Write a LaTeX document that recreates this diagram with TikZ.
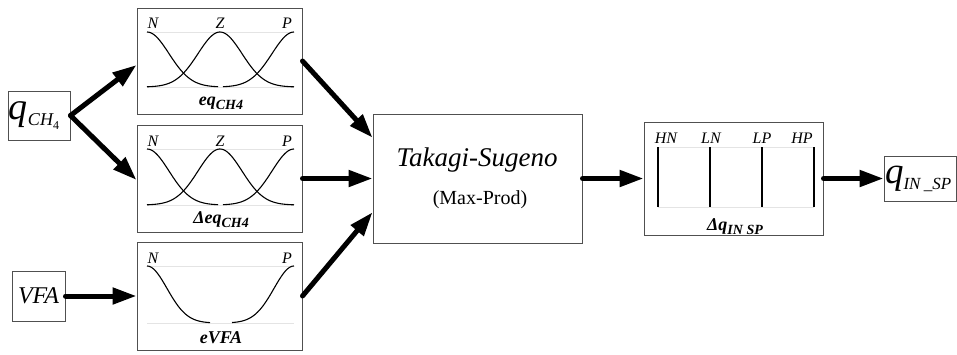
\documentclass[tikz,border=0pt]{standalone}
\usepackage{fontspec}
\setmainfont{Liberation Serif}
\usetikzlibrary{arrows.meta,calc}
\newcommand{\myfs}[1]{\fontsize{#1}{#1}\selectfont}
\definecolor{boxgray}{HTML}{505050}
\definecolor{guidegray}{HTML}{E4E4E4}
\begin{document}
\begin{tikzpicture}[x=1pt,y=-1pt,
  box/.style={draw=boxgray, line width=1pt, inner sep=0pt},
  flow/.style={line width=5pt, line cap=round, -{Triangle[length=24pt,width=16pt]}},
  mf/.style={line width=1.1pt, black},
  guide/.style={line width=0.6pt, guidegray},
  mflab/.style={font=\myfs{16}\itshape, inner sep=0pt},
  boxlab/.style={font=\myfs{18}\bfseries\itshape, inner sep=0pt}]
\useasboundingbox (0,0) rectangle (957,354);

% boxes
\node[box, minimum width=62pt, minimum height=49pt, text width=60pt, align=left] (qch) at (39,115.5)
  {{\myfs{38}\itshape q}\raisebox{-6pt}{\myfs{18}\itshape CH}\raisebox{-10pt}{\myfs{12}4}};
\node[box, minimum width=165pt, minimum height=106pt] (mfa) at (219.5,61) {};
\node[box, minimum width=165pt, minimum height=107pt] (mfb) at (219.5,178.5) {};
\node[box, minimum width=165pt, minimum height=108pt] (mfc) at (219.5,296) {};
\node[box, minimum width=53pt, minimum height=50pt] (vfa) at (38.5,296) {\myfs{24}\itshape VFA};
\node[box, minimum width=209pt, minimum height=129pt] (ts) at (477.5,178.5) {};
\node[box, minimum width=179pt, minimum height=113pt] (dq) at (733.5,178.5) {};
\node[box, minimum width=72pt, minimum height=45pt, text width=70pt, align=left] (qout) at (920,178.5)
  {{\myfs{37}\itshape q}\raisebox{-6pt}{\myfs{17}\itshape IN \_SP}};

% Takagi-Sugeno texts
\node[font=\myfs{27}\itshape, inner sep=0pt] (tsa) at (477,160) {Takagi-Sugeno};
\node[font=\myfs{20}, inner sep=0pt] (tsb) at (480,200) {(Max-Prod)};

% membership functions, boxes 1 and 2
\foreach \ty/\by in {32/87,149/205}{
  \draw[guide] (147,\ty) -- (294,\ty);
  \draw[guide] (147,\by) -- (294,\by);
  \draw[mf] plot[domain=147:218,samples=50] (\x,{\by-(\by-\ty)*exp(-(\x-147)*(\x-147)/968)});
  \draw[mf] plot[domain=147:294,samples=80] (\x,{\by-(\by-\ty)*exp(-(\x-220)*(\x-220)/968)});
  \draw[mf] plot[domain=223:294,samples=50] (\x,{\by-(\by-\ty)*exp(-(\x-294)*(\x-294)/968)});
}
\node[mflab] (na) at (153,23) {N};
\node[mflab] (za) at (220,23) {Z};
\node[mflab] (pa) at (287,23) {P};
\node[boxlab] (la) at (221,103) {eq\raisebox{-4pt}{\myfs{14}CH4}};
\node[mflab] (nb) at (153,141) {N};
\node[mflab] (zb) at (220,141) {Z};
\node[mflab] (pb) at (287,141) {P};
\node[boxlab] (lb) at (221,220) {Δeq\raisebox{-4pt}{\myfs{14}CH4}};

% box 3
\draw[guide] (147,266) -- (294,266);
\draw[guide] (147,323) -- (294,323);
\draw[mf] plot[domain=147:210,samples=50] (\x,{323-57*exp(-(\x-147)*(\x-147)/800)});
\draw[mf] plot[domain=232:294,samples=50] (\x,{323-57*exp(-(\x-294)*(\x-294)/800)});
\node[mflab] (nc) at (153,258) {N};
\node[mflab] (pc) at (287,258) {P};
\node[boxlab] (lc) at (221,338) {eVFA};

% output set box
\draw[guide] (658,147) -- (814,147);
\draw[guide] (658,207) -- (814,207);
\foreach \vx in {658,710,762,814}{
  \draw[line width=1.3pt] (\vx,147) -- (\vx,207);
}
\node[mflab] (hn) at (666,138) {HN};
\node[mflab] (ln) at (711,138) {LN};
\node[mflab] (lp) at (762,138) {LP};
\node[mflab] (hp) at (802,138) {HP};
\node[boxlab] (ld) at (735,227) {Δq\raisebox{-4pt}{\myfs{14}IN SP}};

% connectors
\draw[flow] (qch.east) -- ($(mfa.west)+(0,4)$);
\draw[flow] (qch.east) -- ($(mfb.west)+(0,1.5)$);
\draw[flow] (vfa.east) -- (mfc.west);
\draw[flow] (mfa.east) -- ($(ts.north west)!0.186!(ts.south west)$);
\draw[flow] (mfb.east) -- (ts.west);
\draw[flow] (mfc.east) -- ($(ts.north west)!0.76!(ts.south west)$);
\draw[flow] (ts.east) -- (dq.west);
\draw[flow] (dq.east) -- (qout.west);
\end{tikzpicture}
\end{document}
